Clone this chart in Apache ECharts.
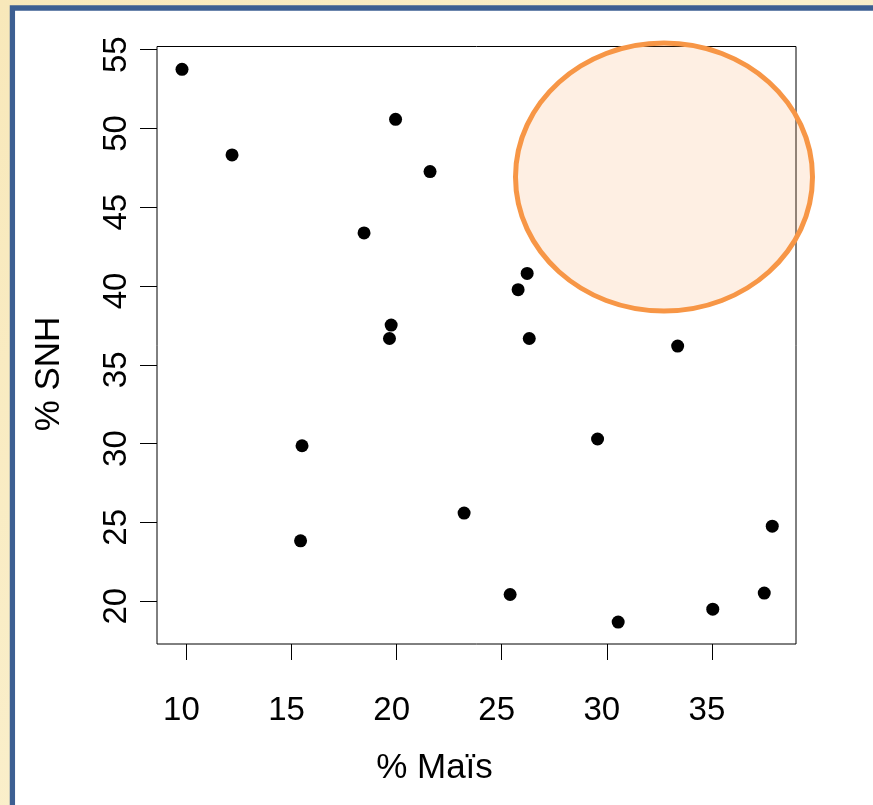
<!DOCTYPE html>
<html><head><meta charset="utf-8">
<script src="https://cdn.jsdelivr.net/npm/echarts@6/dist/echarts.min.js"></script>
<style>html,body{margin:0;padding:0;background:#fff;} #c{width:873px;height:805px;}</style>
</head><body><div id="c"></div>
<script>
const maisPct = [9.79, 12.17, 19.95, 21.59, 18.45, 19.74, 19.66, 26.31, 15.50, 23.21, 15.43, 29.56, 25.40, 30.54, 33.37, 37.87, 37.49, 35.04, 26.21, 25.78];
const snhPct  = [53.75, 48.32, 50.58, 47.26, 43.37, 37.52, 36.67, 36.67, 29.86, 25.59, 23.83, 30.29, 20.42, 18.67, 36.19, 24.76, 20.51, 19.49, 40.80, 39.77];
const xTicks = [10, 15, 20, 25, 30, 35];
const yTicks = [20, 25, 30, 35, 40, 45, 50, 55];
const xTitle = '% Maïs';
const yTitle = '% SNH';

const FONT = '"Liberation Sans", Arial, sans-serif';
const points = maisPct.map((x, i) => [x, snhPct[i]]);

const chart = echarts.init(document.getElementById('c'), null, {renderer: 'canvas'});
chart.setOption({
  animation: false,
  backgroundColor: 'transparent',
  grid: {left: 157, top: 46.5, width: 639, height: 597.5, show: true,
         borderColor: '#000', borderWidth: 1, backgroundColor: 'transparent', containLabel: false},
  xAxis: {
    type: 'value', min: 8.6, max: 39.0,
    axisLine: {show: false},
    splitLine: {show: false},
    axisTick: {show: true, customValues: xTicks, length: 16, lineStyle: {color: '#000', width: 1}},
    axisLabel: {customValues: xTicks, fontSize: 33, fontFamily: FONT, color: '#000', margin: 50,
                padding: [0, 10, 0, 0]}
  },
  yAxis: {
    type: 'value', min: 17.28, max: 55.2,
    axisLine: {show: false},
    splitLine: {show: false},
    axisTick: {show: true, customValues: yTicks, length: 17, lineStyle: {color: '#000', width: 1}},
    axisLabel: {customValues: yTicks, fontSize: 33, fontFamily: FONT, color: '#000', margin: 24,
                rotate: 90, padding: [0, 10, 0, 0]}
  },
  graphic: [
    {type: 'rect', z: -100, silent: true, shape: {x: 0, y: 0, width: 873, height: 805},
     style: {fill: new echarts.graphic.LinearGradient(0, 0, 1, 1, [
       {offset: 0, color: '#F8E8BA'}, {offset: 0.5, color: '#FAEFCB'}, {offset: 1, color: '#F6E4B0'}])}},
    {type: 'rect', z: -99, silent: true, shape: {x: 12.4, y: 8, width: 900, height: 900},
     style: {fill: '#fff', stroke: '#3D5F92', lineWidth: 5.3}},
    {type: 'ellipse', z: 100, silent: true, shape: {cx: 664, cy: 177, rx: 148.5, ry: 134},
     style: {fill: 'rgba(247,150,70,0.15)', stroke: '#F79646', lineWidth: 5}},
    {type: 'text', z: 50, silent: true, x: 434.5, y: 768,
     style: {text: xTitle, font: '35px ' + FONT, fill: '#000', align: 'center', verticalAlign: 'middle'}},
    {type: 'text', z: 50, silent: true, x: 49.5, y: 374, rotation: Math.PI / 2,
     style: {text: yTitle, font: '35px ' + FONT, fill: '#000', align: 'center', verticalAlign: 'middle'}}
  ],
  series: [{
    type: 'scatter', data: points, symbol: 'circle', symbolSize: 13,
    itemStyle: {color: '#000', opacity: 1}, z: 10
  }]
});
</script></body></html>
